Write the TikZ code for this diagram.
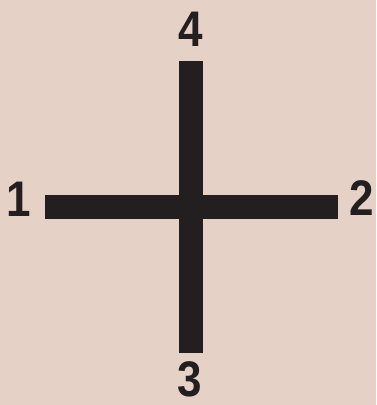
\documentclass[tikz,border=0pt]{standalone}
\usepackage{fontspec}
\setmainfont{Liberation Sans}
\definecolor{bgpink}{RGB}{230,209,198}
\definecolor{barblack}{RGB}{35,31,32}
\begin{document}
\begin{tikzpicture}[x=1pt, y=-1pt,
    every node/.style={font=\fontsize{50}{50}\selectfont\bfseries, text=barblack, inner sep=0pt, xscale=0.88}]
    % Background
    \fill[bgpink] (0,0) rectangle (376,405);
    \useasboundingbox (0,0) rectangle (376,405);

    % Cross
    \fill[barblack] (45,195) rectangle (338,219);
    \fill[barblack] (179,61) rectangle (203,353);

    % Labels
    \node (four)  at (190.5,29)  {4};
    \node (one)   at (18.5,199)  {1};
    \node (two)   at (362,198)   {2};
    \node (three) at (189.5,379) {3};
  \end{tikzpicture}
\end{document}
